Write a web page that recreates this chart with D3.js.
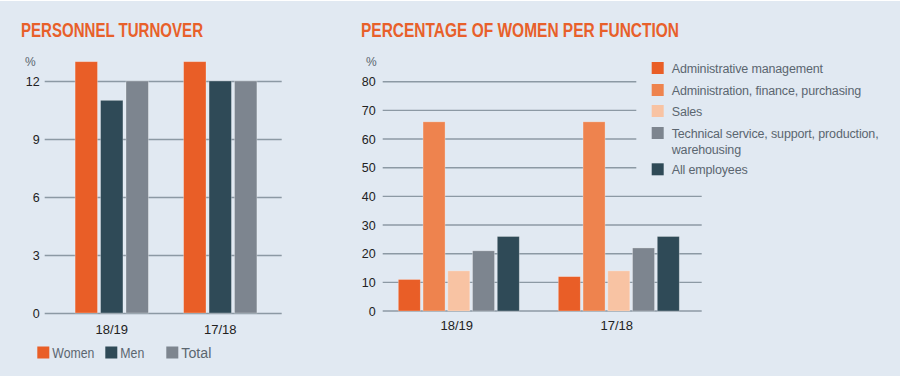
<!DOCTYPE html>
<html><head><meta charset="utf-8">
<script src="https://cdn.jsdelivr.net/npm/d3@7"></script>
<style>
html,body{margin:0;padding:0;background:#fff;}
svg{display:block;}
text{font-family:"Liberation Sans",Arial,sans-serif;}
</style></head>
<body>
<svg id="chart" width="900" height="379"></svg>
<script>
// ---- Data: personnel turnover ----
const turnoverCategories = ["18/19", "17/18"];
const turnoverSeries = ["Women", "Men", "Total"];
const turnoverWomen = [13, 13];
const turnoverMen = [11, 12];
const turnoverTotal = [12, 12];
const turnoverTicks = [0, 3, 6, 9, 12];

// ---- Data: percentage of women per function ----
const functionCategories = ["18/19", "17/18"];
const functionSeries = ["Administrative management", "Administration, finance, purchasing", "Sales", "Technical service, support, production, warehousing", "All employees"];
const functionLegendLines = [["Administrative management"], ["Administration, finance, purchasing"], ["Sales"], ["Technical service, support, production,", "warehousing"], ["All employees"]];
const adminManagement = [11, 12];
const adminFinance = [66, 66];
const salesValues = [14, 14];
const technicalValues = [21, 22];
const allEmployees = [26, 26];
const functionTicks = [0, 10, 20, 30, 40, 50, 60, 70, 80];

const turnoverColors = ["#E95E27", "#2F4A57", "#7D858F"];
const functionColors = ["#E95E27", "#EE834E", "#F8C3A3", "#7D858F", "#2F4A57"];

const svg = d3.select("#chart");
svg.append("rect").attr("x", 0).attr("y", 1).attr("width", 900).attr("height", 375).attr("fill", "#E1E9F2");

const titleColor = "#E8602A";
const gridColor = "#8C99A4";

// ================= LEFT CHART =================
(function(){
  const g = svg.append("g");
  g.append("text").attr("x", 21).attr("y", 36.7)
    .attr("font-family", "'Liberation Sans Narrow','DejaVu Sans Condensed',sans-serif")
    .attr("font-weight", "bold").attr("font-size", 21).attr("fill", titleColor)
    .attr("textLength", 182).attr("lengthAdjust", "spacingAndGlyphs")
    .text("PERSONNEL TURNOVER");

  const y = d3.scaleLinear().domain([0, 12]).range([313, 81]);
  const x0 = d3.scaleBand().domain(turnoverCategories).range([57.5, 274.5]).paddingInner(0).paddingOuter(0);
  const groupW = 73.3;
  const x1 = d3.scaleBand().domain(turnoverSeries).range([-groupW/2, groupW/2]).paddingInner(0.12).paddingOuter(0);

  const yAxis = d3.axisLeft(y).tickValues(turnoverTicks).tickSize(-237).tickPadding(5).tickFormat(d3.format("d"));
  const ax = g.append("g").attr("transform", "translate(44.7,0)").call(yAxis);
  ax.select(".domain").remove();
  ax.selectAll(".tick line").attr("stroke", gridColor).attr("stroke-width", 1.4);
  ax.selectAll(".tick text").attr("font-size", 12.5).attr("fill", "#222").attr("font-family", "'Liberation Sans',Arial,sans-serif");

  g.append("text").attr("x", 25).attr("y", 66).attr("font-size", 12).attr("fill", "#5a6670").text("%");

  const data = turnoverCategories.map((c, i) => ({cat: c, vals: [turnoverWomen[i], turnoverMen[i], turnoverTotal[i]]}));
  const groups = g.selectAll(".grp").data(data).join("g")
    .attr("transform", d => `translate(${x0(d.cat) + x0.bandwidth()/2},0)`);
  groups.selectAll("rect").data(d => d.vals.map((v, j) => ({s: turnoverSeries[j], v, j}))).join("rect")
    .attr("x", d => x1(d.s)).attr("width", x1.bandwidth())
    .attr("y", d => y(d.v)).attr("height", d => y(0) - y(d.v))
    .attr("fill", d => turnoverColors[d.j])
    .attr("stroke", "rgba(255,255,255,0.35)").attr("stroke-width", 0.8);

  g.selectAll(".cat").data(turnoverCategories).join("text")
    .attr("x", d => x0(d) + x0.bandwidth()/2).attr("y", 333.5)
    .attr("text-anchor", "middle").attr("font-size", 13).attr("fill", "#222").text(d => d);

  const legX = [37.3, 105.3, 166.3];
  const leg = g.selectAll(".leg").data(turnoverSeries).join("g")
    .attr("transform", (d, i) => `translate(${legX[i]},346.5)`);
  leg.append("rect").attr("width", 12).attr("height", 12).attr("fill", (d, i) => turnoverColors[i]);
  leg.append("text").attr("x", 15).attr("y", 11).attr("font-size", 14).attr("fill", "#5b6670")
    .attr("textLength", (d,i) => [42, 24, 30][i]).attr("lengthAdjust", "spacingAndGlyphs").text(d => d);
})();

// ================= RIGHT CHART =================
(function(){
  const g = svg.append("g");
  g.append("text").attr("x", 361).attr("y", 36.7)
    .attr("font-family", "'Liberation Sans Narrow','DejaVu Sans Condensed',sans-serif")
    .attr("font-weight", "bold").attr("font-size", 21).attr("fill", titleColor)
    .attr("textLength", 318).attr("lengthAdjust", "spacingAndGlyphs")
    .text("PERCENTAGE OF WOMEN PER FUNCTION");

  const y = d3.scaleLinear().domain([0, 80]).range([311, 81.7]);
  const x0 = d3.scaleBand().domain(functionCategories).range([378.8, 698.8]).paddingInner(0).paddingOuter(0);
  const groupW = 121;
  const x1 = d3.scaleBand().domain(functionSeries).range([-groupW/2, groupW/2]).paddingInner(0.11).paddingOuter(0);

  const gridG = g.append("g");
  gridG.selectAll("line").data(functionTicks).join("line")
    .attr("x1", 382.7).attr("x2", d => d >= 50 ? 636.3 : 701.7)
    .attr("y1", d => y(d)).attr("y2", d => y(d))
    .attr("stroke", gridColor).attr("stroke-width", 1.4);
  const yAxis = d3.axisLeft(y).tickValues(functionTicks).tickSize(0).tickPadding(7).tickFormat(d3.format("d"));
  const ax = g.append("g").attr("transform", "translate(382.7,0)").call(yAxis);
  ax.select(".domain").remove();
  ax.selectAll(".tick text").attr("font-size", 12.5).attr("fill", "#222").attr("font-family", "'Liberation Sans',Arial,sans-serif");

  g.append("text").attr("x", 366).attr("y", 66).attr("font-size", 12).attr("fill", "#5a6670").text("%");

  const seriesArrays = [adminManagement, adminFinance, salesValues, technicalValues, allEmployees];
  const data = functionCategories.map((c, i) => ({cat: c, vals: seriesArrays.map(a => a[i])}));
  const groups = g.selectAll(".grp").data(data).join("g")
    .attr("transform", d => `translate(${x0(d.cat) + x0.bandwidth()/2},0)`);
  groups.selectAll("rect").data(d => d.vals.map((v, j) => ({s: functionSeries[j], v, j}))).join("rect")
    .attr("x", d => x1(d.s)).attr("width", x1.bandwidth())
    .attr("y", d => y(d.v)).attr("height", d => y(0) - y(d.v))
    .attr("fill", d => functionColors[d.j])
    .attr("stroke", "rgba(255,255,255,0.35)").attr("stroke-width", 0.8);

  g.selectAll(".cat").data(functionCategories).join("text")
    .attr("x", d => x0(d) + x0.bandwidth()/2 - 2).attr("y", 329.5)
    .attr("text-anchor", "middle").attr("font-size", 13).attr("fill", "#222").text(d => d);

  const rowY = [68, 90, 111, 133, 169.3];
  const leg = g.selectAll(".leg").data(functionLegendLines).join("g")
    .attr("transform", (d, i) => `translate(651.7,${rowY[i]})`);
  leg.append("rect").attr("y", -6).attr("width", 12).attr("height", 12).attr("fill", (d, i) => functionColors[i]);
  leg.each(function(lines){
    const t = d3.select(this).append("text").attr("x", 20).attr("y", 5).attr("font-size", 12.5)
      .attr("fill", "#5b6670").attr("letter-spacing", -0.15);
    lines.forEach((ln, k) => t.append("tspan").attr("x", 20).attr("dy", k === 0 ? 0 : 15.5).text(ln));
  });
})();
</script>
</body></html>
